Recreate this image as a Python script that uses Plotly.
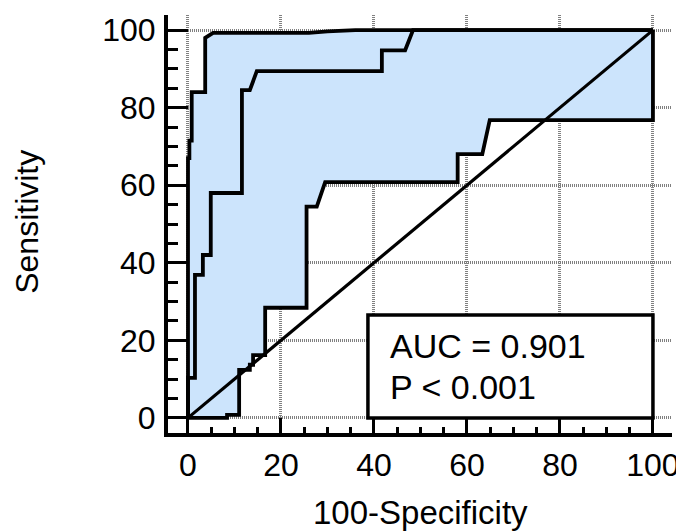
import plotly.graph_objects as go

# Upper confidence bound curve (100-Specificity, Sensitivity)
outer_x = [0, 0, 0.3, 0.3, 0.8, 0.8, 3.7, 3.7, 5.4, 26, 30, 36, 100]
outer_y = [0, 67, 67, 71.5, 71.5, 84, 84, 98, 99.3, 99.3, 99.7, 100, 100]

# ROC curve
roc_x = [0, 0, 1.5, 1.5, 3.2, 3.2, 4.9, 4.9, 11.6, 11.6, 13.3, 14.8, 41.7, 41.7, 46.7, 48.4, 100]
roc_y = [0, 10.3, 10.3, 36.9, 36.9, 42.0, 42.0, 58.0, 58.0, 84.5, 84.5, 89.4, 89.4, 94.8, 94.8, 100, 100]

# Lower confidence bound curve
inner_x = [0, 8.4, 8.4, 11, 11, 13.3, 13.3, 14, 14, 16.6, 16.6, 25.5, 25.5, 27.7, 29.5, 58.0, 58.0, 63.3, 64.9, 100, 100]
inner_y = [0, 0, 0.8, 0.8, 12.4, 12.4, 13.7, 13.7, 16.2, 16.2, 28.4, 28.4, 54.5, 54.5, 60.8, 60.8, 68.0, 68.0, 76.8, 76.8, 100]

diag_x = [0, 100]
diag_y = [0, 100]

tick_vals = [0, 20, 40, 60, 80, 100]
tick_text = ["0", "20", "40", "60", "80", "100"]

auc_text = "AUC = 0.901"
p_text = "P &lt; 0.001"
x_title = "100-Specificity"
y_title = "Sensitivity"

FONT = "Liberation Sans, Arial, sans-serif"
FILL = "rgb(204,228,252)"
LW = 3.8

fig = go.Figure()

fig.add_trace(go.Scatter(
    x=outer_x + inner_x[::-1], y=outer_y + inner_y[::-1],
    mode="lines", fill="toself", fillcolor=FILL,
    line=dict(width=0, color=FILL), hoverinfo="skip", showlegend=False))

for xs, ys in [(outer_x, outer_y), (inner_x, inner_y), (roc_x, roc_y)]:
    fig.add_trace(go.Scatter(x=xs, y=ys, mode="lines",
                             line=dict(color="black", width=LW), showlegend=False))

fig.add_trace(go.Scatter(x=diag_x, y=diag_y, mode="lines",
                         line=dict(color="black", width=3.2), showlegend=False))

fig.add_shape(type="rect", x0=38.7, x1=100, y0=0, y1=26.5, xref="x", yref="y",
              fillcolor="white", line=dict(color="black", width=3.5), layer="above")

fig.add_annotation(x=43, y=18.6, xref="x", yref="y", text=auc_text, showarrow=False,
                   xanchor="left", yanchor="middle", font=dict(size=34, color="black", family=FONT))
fig.add_annotation(x=43, y=8.0, xref="x", yref="y", text=p_text, showarrow=False,
                   xanchor="left", yanchor="middle", font=dict(size=34, color="black", family=FONT))

fig.add_annotation(x=0.5, y=-0.191, xref="paper", yref="paper", text=x_title, showarrow=False,
                   xanchor="center", yanchor="middle", font=dict(size=33, color="black", family=FONT))
fig.add_annotation(x=-0.28, y=0.505, xref="paper", yref="paper", text=y_title, showarrow=False,
                   textangle=-90, xanchor="center", yanchor="middle",
                   font=dict(size=32, color="black", family=FONT))

grid = dict(showgrid=True, gridcolor="#808080", gridwidth=2.5, griddash="1px,1px",
            zeroline=False, showline=True, linecolor="black", linewidth=4,
            ticks="inside", tickcolor="black", tickwidth=3, automargin=False,
            tickvals=tick_vals, ticktext=tick_text,
            tickfont=dict(size=32, color="black", family=FONT))

fig.update_xaxes(**grid, range=[-4.3, 104.1], ticklen=15, ticklabelstandoff=1,
                 minor=dict(ticks="inside", dtick=5, tick0=0, ticklen=6, tickwidth=3,
                            tickcolor="black", showgrid=False))
fig.update_yaxes(**grid, range=[-3.9, 103.9], ticklen=20, ticklabelstandoff=2,
                 minor=dict(ticks="inside", dtick=5, tick0=0, ticklen=10, tickwidth=3,
                            tickcolor="black", showgrid=False))

# The page body adds an 8px offset, so the figure is 8px smaller in each direction
fig.update_layout(width=676, height=524, autosize=False,
                  margin=dict(l=160, r=12, t=7, b=99),
                  paper_bgcolor="white", plot_bgcolor="white",
                  font=dict(family=FONT, color="black"))

fig.write_html("out.html")
